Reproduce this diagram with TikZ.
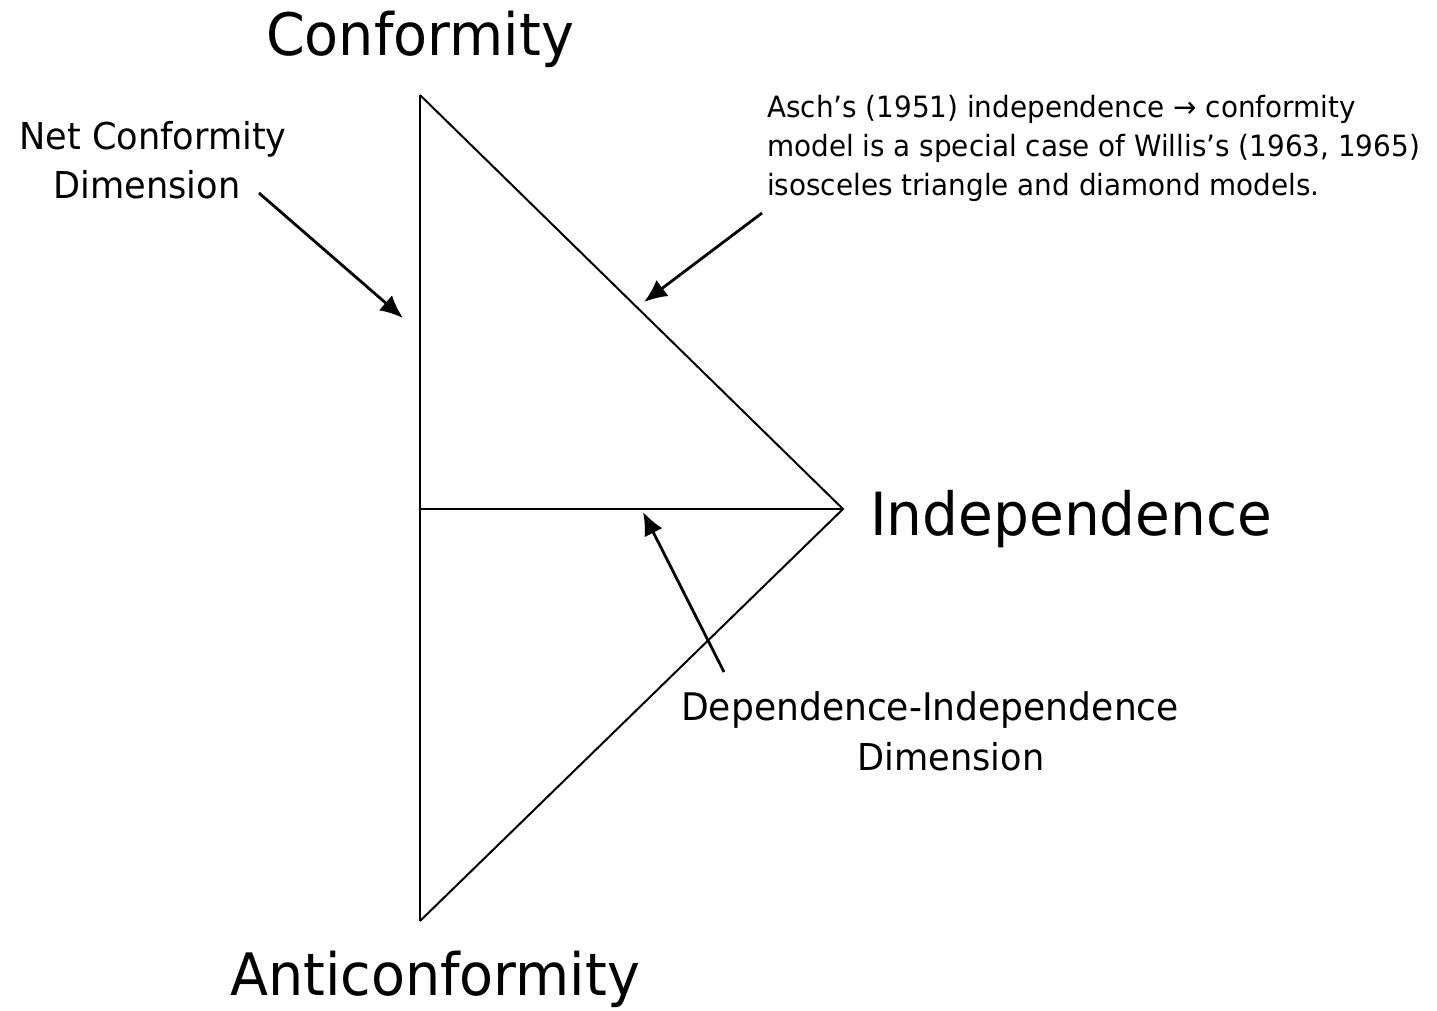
\documentclass[tikz,border=0pt]{standalone}
\usepackage{fontspec}
\setmainfont[FakeStretch=0.95]{DejaVu Sans}
\usetikzlibrary{arrows.meta}
\tikzset{
  biglabel/.style={font=\fontsize{58.5}{70}\selectfont, inner sep=0pt},
  midlabel/.style={font=\fontsize{37}{44}\selectfont, inner sep=0pt},
  smalllabel/.style={font=\fontsize{29.3}{36}\selectfont, inner sep=0pt},
  edgeline/.style={line width=2pt, line join=miter},
  pointer/.style={line width=2.8pt, -{Latex[length=23pt,width=20pt]}}
}
\begin{document}
\begin{tikzpicture}[x=1pt,y=-1pt]
\fill[white] (0,0) rectangle (1437,1010);
\useasboundingbox (0,0) rectangle (1437,1010);

% triangle vertices
\coordinate (top) at (420,95);
\coordinate (bot) at (420,921);
\coordinate (apex) at (843,509);
\coordinate (mid) at (420,509);

\draw[edgeline] (top) -- (bot);
\draw[edgeline] (top) -- (apex) -- (bot);
\draw[edgeline] (mid) -- (apex);

% big labels
\node[biglabel, anchor=base] (conf) at (420,55) {Conformity};
\node[biglabel, anchor=base] (anti) at (435,995) {Anticonformity};
\node[biglabel, anchor=base west, font=\fontsize{59.5}{70}\selectfont] (indep) at (870,535) {Independence};

% net conformity dimension
\node[midlabel, anchor=base] (net1) at (153,149) {Net Conformity};
\node[midlabel, anchor=base] (net2) at (147,198) {Dimension};

% dependence-independence dimension
\node[midlabel, anchor=base, font=\fontsize{38}{44}\selectfont] (dep1) at (930,720) {Dependence-Independence};
\node[midlabel, anchor=base] (dep2) at (951,770) {Dimension};

% Asch note
\node[smalllabel, anchor=base west] (asch1) at (767,117) {Asch’s (1951) independence → conformity};
\node[smalllabel, anchor=base west] (asch2) at (767,156) {model is a special case of Willis’s (1963, 1965)};
\node[smalllabel, anchor=base west] (asch3) at (767,195) {isosceles triangle and diamond models.};

% pointer arrows
\coordinate (netstart) at (259,193);
\coordinate (nettip) at (403,318);
\coordinate (aschstart) at (762,213);
\coordinate (aschtip) at (644,302);
\coordinate (depstart) at (724,672);
\coordinate (deptip) at (643,512);

\draw[pointer] (netstart) -- (nettip);
\draw[pointer] (aschstart) -- (aschtip);
\draw[pointer] (depstart) -- (deptip);
\end{tikzpicture}
\end{document}
